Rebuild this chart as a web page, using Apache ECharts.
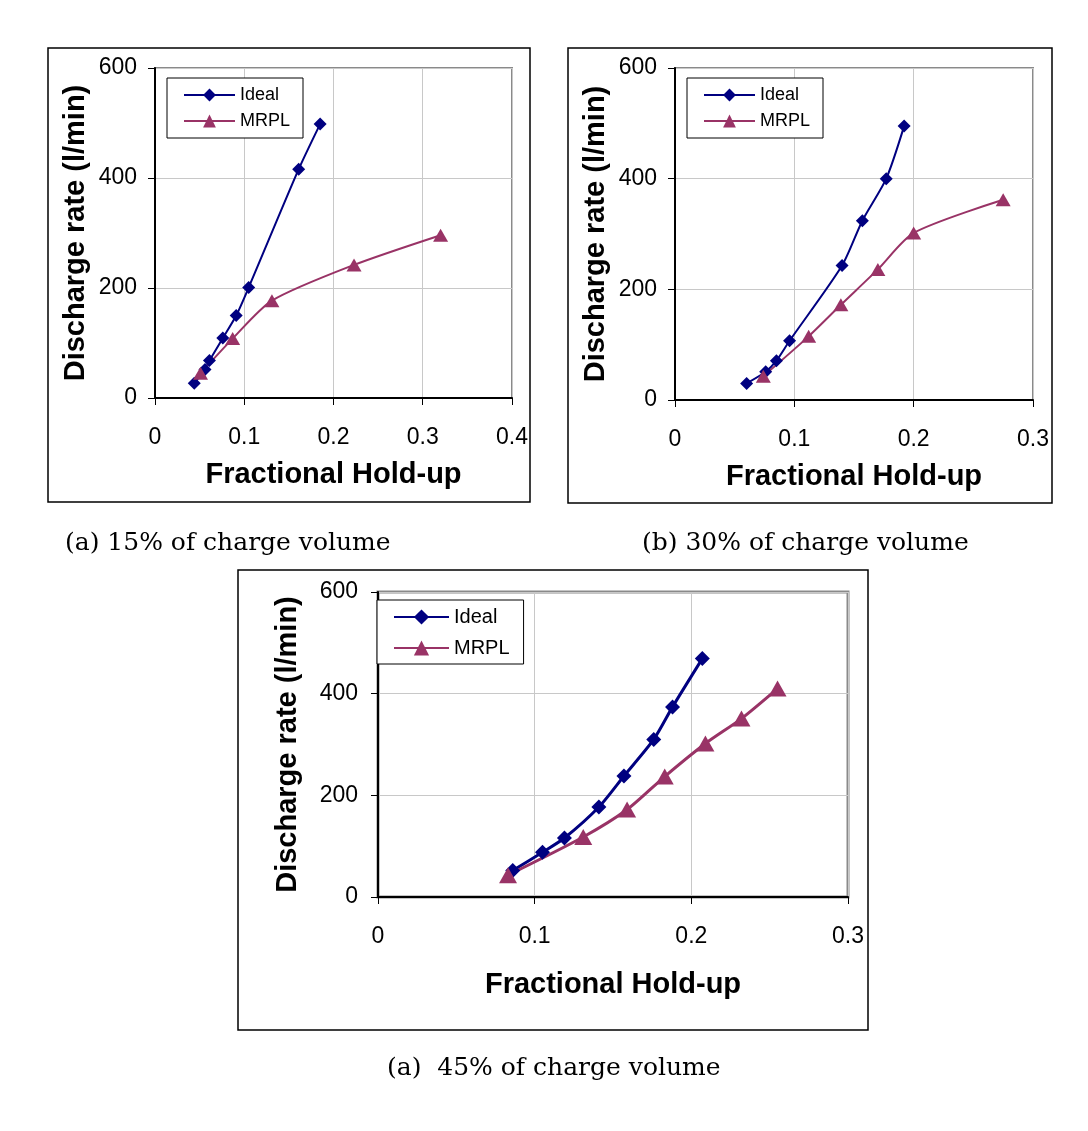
<!DOCTYPE html>
<html>
<head>
<meta charset="utf-8">
<script src="https://cdn.jsdelivr.net/npm/echarts@6/dist/echarts.min.js"></script>
<style>
html, body { margin: 0; padding: 0; background: #fff; }
#main { width: 1088px; height: 1131px; }
</style>
</head>
<body>
<div id="main"></div>
<script>
// (a) 15% of charge volume
var holdupIdealA = [0.044, 0.056, 0.061, 0.076, 0.091, 0.105, 0.161, 0.185];
var rateIdealA = [27, 52, 68, 109, 150, 201, 416, 498];
var holdupMrplA = [0.051, 0.087, 0.131, 0.223, 0.320];
var rateMrplA = [45, 108, 177, 242, 296];

// (b) 30% of charge volume
var holdupIdealB = [0.060, 0.076, 0.085, 0.096, 0.140, 0.157, 0.177, 0.192];
var rateIdealB = [30, 51, 71, 107, 243, 324, 400, 495];
var holdupMrplB = [0.074, 0.112, 0.139, 0.170, 0.200, 0.275];
var rateMrplB = [43, 115, 172, 236, 302, 362];

// (c) 45% of charge volume
var holdupIdealC = [0.086, 0.105, 0.119, 0.141, 0.157, 0.176, 0.188, 0.207];
var rateIdealC = [52, 88, 116, 177, 238, 310, 374, 469];
var holdupMrplC = [0.083, 0.131, 0.159, 0.183, 0.209, 0.232, 0.255];
var rateMrplC = [43, 118, 172, 237, 302, 351, 410];

var seriesNames = ['Ideal', 'MRPL'];
var captions = ['(a) 15% of charge volume', '(b) 30% of charge volume', '(a)  45% of charge volume'];
var xAxisMax = [0.4, 0.3, 0.3];
var yAxisMax = 600;
var yStep = 200;
var xStep = 0.1;
var xTitle = 'Fractional Hold-up';
var yTitle = 'Discharge rate (l/min)';

var sansFont = '"Liberation Sans", Arial, sans-serif';

function makePairs(xs, ys) {
    var i = 0;
    var pairs = [];
    for (i = 0; i < xs.length; i++) {
        pairs.push([xs[i], ys[i]]);
    }
    return pairs;
}

// layout of the three panels (pixels)
var panels = [
    {grid: {left: 155, top: 68, width: 357, height: 330}, legend: {left: 167, top: 78},
     box: [48, 48, 482, 454], caption: [65, 543],
     ideal: makePairs(holdupIdealA, rateIdealA), mrpl: makePairs(holdupMrplA, rateMrplA),
     big: false},
    {grid: {left: 675, top: 68, width: 358, height: 332}, legend: {left: 687, top: 78},
     box: [568, 48, 484, 455], caption: [642, 543],
     ideal: makePairs(holdupIdealB, rateIdealB), mrpl: makePairs(holdupMrplB, rateMrplB),
     big: false},
    {grid: {left: 378, top: 592, width: 470, height: 305}, legend: {left: 377, top: 600},
     box: [238, 570, 630, 460], caption: [387, 1068],
     ideal: makePairs(holdupIdealC, rateIdealC), mrpl: makePairs(holdupMrplC, rateMrplC),
     big: true}
];

var grids = [], xAxes = [], yAxes = [], series = [], legends = [], graphics = [];

panels.forEach(function (p, i) {
    var tag = '#' + i;
    grids.push({
        left: p.grid.left, top: p.grid.top, width: p.grid.width, height: p.grid.height,
        show: true,
        borderColor: '#8a8a8a',
        borderWidth: p.big ? 3 : 2,
        backgroundColor: '#fff',
        outerBoundsMode: 'none'
    });
    xAxes.push({
        type: 'value',
        gridIndex: i,
        min: 0,
        max: xAxisMax[i],
        interval: xStep,
        name: xTitle,
        nameLocation: 'middle',
        nameGap: p.big ? 73 : 62,
        nameTextStyle: {fontFamily: sansFont, fontWeight: 'bold', fontSize: 29, color: '#000'},
        axisLine: {show: true, onZero: false, lineStyle: {color: '#000', width: 2}},
        axisTick: {show: true, inside: false, length: 7, lineStyle: {color: '#000'}},
        axisLabel: {fontFamily: sansFont, fontSize: 23, color: '#000', margin: 28},
        splitLine: {show: true, lineStyle: {color: '#c8c8c8', width: 1}}
    });
    yAxes.push({
        type: 'value',
        gridIndex: i,
        min: 0,
        max: yAxisMax,
        interval: yStep,
        name: yTitle,
        nameLocation: 'middle',
        nameGap: p.big ? 76 : 65,
        nameTextStyle: {fontFamily: sansFont, fontWeight: 'bold', fontSize: 29, color: '#000'},
        axisLine: {show: true, onZero: false, lineStyle: {color: '#000', width: 2}},
        axisTick: {show: true, inside: false, length: 7, lineStyle: {color: '#000'}},
        axisLabel: {fontFamily: sansFont, fontSize: 23, color: '#000', margin: p.big ? 20 : 18},
        splitLine: {show: true, lineStyle: {color: '#c8c8c8', width: 1}}
    });
    series.push({
        name: seriesNames[0] + tag,
        type: 'line',
        xAxisIndex: i,
        yAxisIndex: i,
        data: p.ideal,
        smooth: 0.25,
        symbol: 'diamond',
        symbolSize: p.big ? 15 : 13,
        lineStyle: {color: '#000080', width: p.big ? 3 : 2},
        itemStyle: {color: '#000080'}
    });
    series.push({
        name: seriesNames[1] + tag,
        type: 'line',
        xAxisIndex: i,
        yAxisIndex: i,
        data: p.mrpl,
        smooth: 0.25,
        symbol: 'triangle',
        symbolSize: p.big ? [18, 16] : [15, 13],
        lineStyle: {color: '#993366', width: p.big ? 3 : 2},
        itemStyle: {color: '#993366'}
    });
    legends.push({
        data: [seriesNames[0] + tag, seriesNames[1] + tag],
        orient: 'vertical',
        left: p.legend.left,
        top: p.legend.top,
        padding: p.big ? [7, 14, 6, 16] : [8, 13, 8, 16],
        itemGap: p.big ? 11 : 8,
        itemWidth: p.big ? 55 : 51,
        itemHeight: p.big ? 19 : 16,
        borderColor: '#000',
        borderWidth: 1,
        backgroundColor: '#fff',
        selectedMode: false,
        formatter: function (name) {
            return name.split('#')[0];
        },
        textStyle: {fontFamily: sansFont, fontSize: p.big ? 20 : 18, color: '#000'}
    });
    graphics.push({
        type: 'rect',
        shape: {x: p.box[0], y: p.box[1], width: p.box[2], height: p.box[3]},
        style: {fill: null, stroke: '#000', lineWidth: 1.5},
        silent: true,
        z: -10
    });
    graphics.push({
        type: 'text',
        x: p.caption[0],
        y: p.caption[1],
        style: {
            text: captions[i],
            font: '25px "DejaVu Serif", "Liberation Serif", serif',
            fill: '#000',
            align: 'left',
            verticalAlign: 'middle'
        },
        silent: true
    });
});

var chart = echarts.init(document.getElementById('main'));
chart.setOption({
    animation: false,
    backgroundColor: '#fff',
    grid: grids,
    xAxis: xAxes,
    yAxis: yAxes,
    legend: legends,
    series: series,
    graphic: graphics
});
</script>
</body>
</html>
